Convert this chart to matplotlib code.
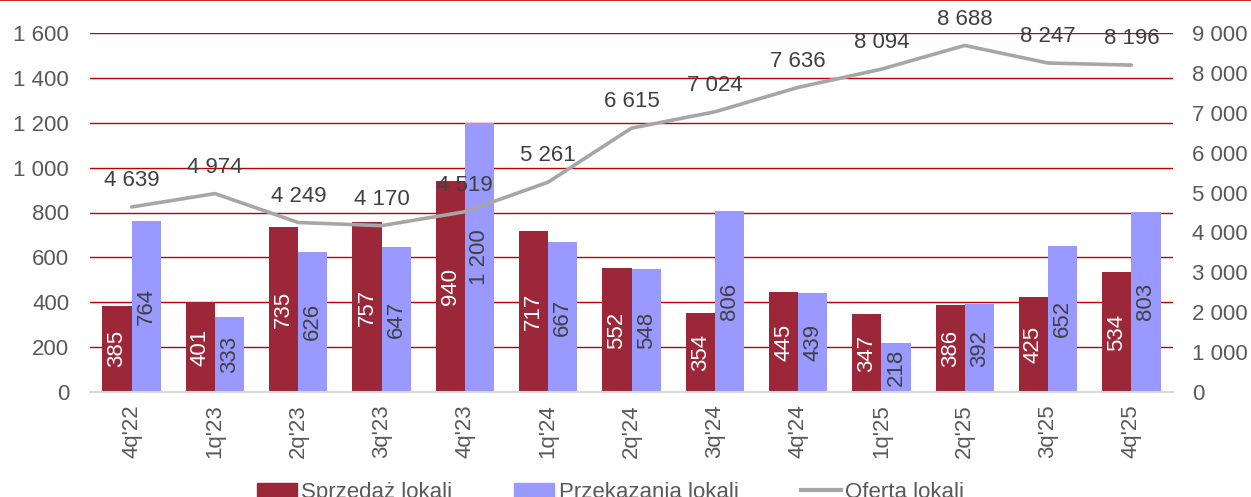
import matplotlib.pyplot as plt
import numpy as np
from matplotlib.lines import Line2D
from matplotlib.patches import Patch

plt.rcParams['font.family'] = ['Liberation Sans', 'DejaVu Sans']

quarters = ["4q'22", "1q'23", "2q'23", "3q'23", "4q'23", "1q'24", "2q'24",
            "3q'24", "4q'24", "1q'25", "2q'25", "3q'25", "4q'25"]
sprzedaz = [385, 401, 735, 757, 940, 717, 552, 354, 445, 347, 386, 425, 534]
przekazania = [764, 333, 626, 647, 1200, 667, 548, 806, 439, 218, 392, 652, 803]
oferta = [4639, 4974, 4249, 4170, 4519, 5261, 6615, 7024, 7636, 8094, 8688, 8247, 8196]

RED = '#9B2739'
BLUE = '#9999FF'
GRAY = '#A6A6A6'
GRID = '#C00000'
TXT = '#595959'
FS = 16


def fmt(v):
    return f"{v:,}".replace(",", " ")


fig = plt.figure(figsize=(12.51, 4.97), dpi=100)
ax = fig.add_axes([90 / 1251, 105 / 497, 1083 / 1251, 359 / 497])
ax2 = ax.twinx()

x = np.arange(len(quarters))
w = 0.35
b1 = ax.bar(x - w / 2, sprzedaz, w, color=RED, zorder=3)
b2 = ax.bar(x + w / 2, przekazania, w, color=BLUE, zorder=3)

# value labels centred inside the bars
for rect, v in zip(b1, sprzedaz):
    ax.text(rect.get_x() + rect.get_width() / 2, v / 2, fmt(v), rotation=90,
            ha='center', va='center', color='white', fontsize=FS, zorder=4)
for rect, v in zip(b2, przekazania):
    ax.text(rect.get_x() + rect.get_width() / 2, v / 2, fmt(v), rotation=90,
            ha='center', va='center', color='#404040', fontsize=FS, zorder=4)

ax.set_xlim(-0.5, len(quarters) - 0.5)
ax.set_ylim(0, 1600)
ax.set_yticks(range(0, 1601, 200))
ax.set_yticklabels([fmt(v) for v in range(0, 1601, 200)])
ax.yaxis.grid(True, color=GRID, linewidth=1, zorder=0)
ax.set_axisbelow(True)
ax.set_xticks(x)
ax.set_xticklabels(quarters, rotation=90)
ax.tick_params(axis='both', length=0, labelsize=FS, colors=TXT)
ax.tick_params(axis='y', pad=15)
ax.tick_params(axis='x', pad=9)

ax2.plot(x, oferta, color=GRAY, linewidth=2.6, zorder=5, solid_capstyle='round')
for xi, v in zip(x, oferta):
    ax2.annotate(fmt(v), (xi, v), xytext=(0, 19), textcoords='offset points',
                 ha='center', va='center', fontsize=FS, color='#404040',
                 annotation_clip=False)
ax2.set_ylim(0, 9000)
ax2.set_yticks(range(0, 9001, 1000))
ax2.set_yticklabels([fmt(v) for v in range(0, 9001, 1000)])
ax2.tick_params(axis='y', length=0, labelsize=FS, colors=TXT, pad=14)

for a in (ax, ax2):
    for s in ('top', 'left', 'right'):
        a.spines[s].set_visible(False)
    a.spines['bottom'].set_color('#D9D9D9')
    a.spines['bottom'].set_linewidth(1.5)

ax.set_zorder(ax2.get_zorder() - 1)
ax.patch.set_visible(False)
ax2.patch.set_visible(False)

fig.add_artist(Line2D([0, 1], [0.999, 0.999], color=GRID, linewidth=1.2,
                      transform=fig.transFigure))

handles = [Patch(color=RED), Patch(color=BLUE),
           Line2D([], [], color=GRAY, linewidth=3)]
fig.legend(handles, ['Sprzedaż lokali', 'Przekazania lokali', 'Oferta lokali'],
           loc='center', bbox_to_anchor=(0.488, 0.01), ncol=3, frameon=False,
           fontsize=FS, labelcolor=TXT, handlelength=1.8, handleheight=0.6,
           handletextpad=0.2, columnspacing=2.8)

fig.savefig('out.png', dpi=100)
